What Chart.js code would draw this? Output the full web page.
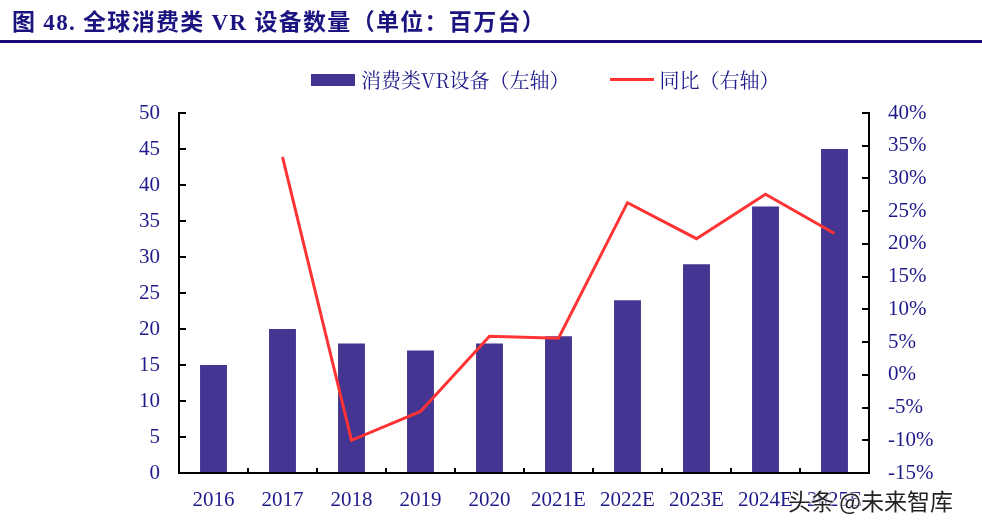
<!DOCTYPE html>
<html>
<head>
<meta charset="utf-8">
<script src="https://cdn.jsdelivr.net/npm/chart.js@4"></script>
<style>
  body { margin: 0; background: #fff; }
  #wrap { position: relative; width: 982px; height: 524px; overflow: hidden; }
  #title { position: absolute; left: 12px; top: 3px; font: bold 23px "Liberation Serif", "Noto Sans CJK SC", serif; letter-spacing: 1.3px; color: #1b1480; white-space: nowrap; }
  #rule { position: absolute; left: 0; top: 40px; width: 982px; height: 3px; background: #1a0a78; }
  #legend { position: absolute; top: 65px; left: 311px; display: flex; align-items: center; font: 20px "Noto Serif CJK SC", "Noto Sans CJK SC", serif; color: #1e1a8a; white-space: nowrap; }
  #legend .item { display: flex; align-items: center; }
  #legend .swatch { width: 44px; margin-right: 6px; }
  #mark { position: absolute; left: 788px; top: 483px; font: 23px "Noto Sans CJK SC", sans-serif; color: #222; white-space: nowrap;
          text-shadow: 0 0 2px #fff, 0 0 2px #fff, 0 0 3px #fff; }
</style>
</head>
<body>
<div id="wrap">
  <canvas id="chart" width="982" height="524"></canvas>
  <div id="title">图 48. 全球消费类 VR 设备数量（单位：百万台）</div>
  <div id="rule"></div>
  <div id="legend"></div>
  <div id="mark">头条 @未来智库</div>
</div>
<script>
// data
const years = ['2016', '2017', '2018', '2019', '2020', '2021E', '2022E', '2023E', '2024E', '2025E'];
const devices = [15, 20, 18, 17, 18, 19, 24, 29, 37, 45];          // 百万台
const yoy = [null, 33.3, -10.0, -5.6, 5.9, 5.6, 26.3, 20.8, 27.6, 21.6]; // %
const seriesNames = ['消费类VR设备（左轴）', '同比（右轴）'];

const navy = '#1e1a8a';
const barColor = '#433591';
const lineColor = '#ff3333';
const tickFont = { family: '"Liberation Serif", "Times New Roman", serif', size: 21 };

// html legend
const legend = document.getElementById('legend');
legend.innerHTML =
  '<div class="item"><div class="swatch" style="height:12px;background:' + barColor + '"></div>' + seriesNames[0] + '</div>' +
  '<div class="item" style="margin-left:40px"><div class="swatch" style="height:3px;background:' + lineColor + '"></div>' + seriesNames[1] + '</div>';

const ctx = document.getElementById('chart');

new Chart(ctx, {
  data: {
    labels: years,
    datasets: [
      {
        type: 'line',
        label: seriesNames[1],
        data: yoy,
        yAxisID: 'y1',
        borderColor: lineColor,
        borderWidth: 3,
        pointRadius: 0,
        tension: 0,
        spanGaps: false
      },
      {
        type: 'bar',
        label: seriesNames[0],
        data: devices,
        yAxisID: 'y',
        backgroundColor: barColor,
        barPercentage: 0.39,
        categoryPercentage: 1
      }
    ]
  },
  options: {
    responsive: false,
    animation: false,
    layout: { padding: { top: 113, left: 0, right: 0, bottom: 0 } },
    plugins: {
      legend: { display: false },
      tooltip: { enabled: false }
    },
    scales: {
      x: {
        offset: true,
        grid: { drawOnChartArea: false, offset: true, tickLength: -5, color: '#000', lineWidth: 2 },
        border: { color: '#000', width: 2 },
        ticks: { color: navy, font: tickFont, padding: 20, maxRotation: 0 },
        afterFit: s => { s.height = 51; }
      },
      y: {
        position: 'left',
        min: 0,
        max: 50,
        grid: { drawOnChartArea: false, tickLength: -7, color: '#000', lineWidth: 2 },
        border: { color: '#000', width: 2 },
        ticks: { stepSize: 5, color: navy, font: tickFont, padding: 26 },
        afterFit: s => { s.width = 179; }
      },
      y1: {
        position: 'right',
        min: -15,
        max: 40,
        grid: { drawOnChartArea: false, tickLength: -7, color: '#000', lineWidth: 2 },
        border: { color: '#000', width: 2 },
        ticks: { stepSize: 5, color: navy, font: tickFont, padding: 26, callback: v => v + '%' },
        afterFit: s => { s.width = 113; }
      }
    }
  }
});
</script>
</body>
</html>
